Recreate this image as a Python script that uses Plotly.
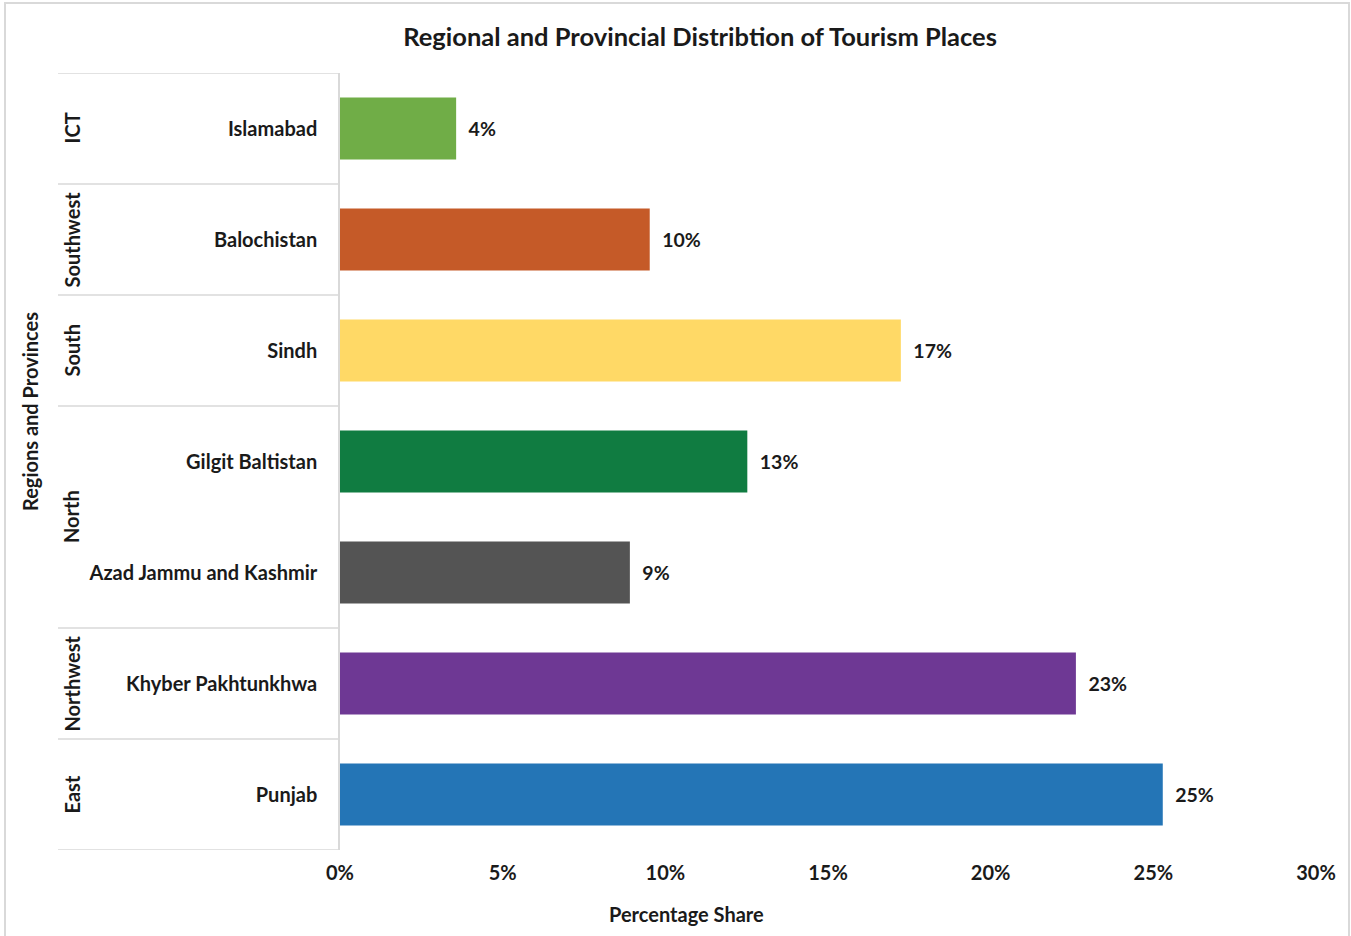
import plotly.graph_objects as go

# Regions and their provinces, listed top to bottom
regions = ["ICT", "Southwest", "South", "North", "North", "Northwest", "East"]
provinces = ["Islamabad", "Balochistan", "Sindh", "Gilgit Baltistan",
             "Azad Jammu and Kashmir", "Khyber Pakhtunkhwa", "Punjab"]
shares = [0.0357, 0.0952, 0.1724, 0.1252, 0.0891, 0.2262, 0.2529]
bar_colors = ["#70AD47", "#C55A28", "#FFD966", "#107C41",
              "#545454", "#6E3894", "#2475B6"]
x_ticks = [0, 0.05, 0.10, 0.15, 0.20, 0.25, 0.30]

W, H = 1351, 936
L, R, T, B = 340, 35, 73, 86
PW = W - L - R
PH = H - T - B

FONT = "Lato, 'Open Sans', sans-serif"
TXT = "#1a1a1a"
GRID = "#d9d9d9"
FS = 20


def px_x(px):
    return (px - L) / PW


def px_y(py):
    return (H - B - py) / PH


fig = go.Figure(
    go.Bar(
        x=shares,
        y=provinces,
        orientation="h",
        marker=dict(color=bar_colors, line=dict(width=0)),
        width=0.56,
        texttemplate="\u00a0\u00a0%{x:.0%}",
        textposition="outside",
        cliponaxis=False,
        textfont=dict(family=FONT, size=19.5, color=TXT, weight="bold"),
        hoverinfo="skip",
    )
)

# Group dividers and rotated region labels beside the province labels
shapes = []
annotations = []
groups = []
for i, r in enumerate(regions):
    if groups and groups[-1][0] == r:
        groups[-1][2] = i
    else:
        groups.append([r, i, i])

bounds = sorted({g[1] - 0.5 for g in groups} | {groups[-1][2] + 0.5})
for b in bounds:
    shapes.append(dict(type="line", xref="paper", yref="y",
                       x0=px_x(58), x1=0, y0=b, y1=b,
                       line=dict(color=GRID, width=1.5)))

for name, a, b in groups:
    annotations.append(dict(text=name, xref="paper", yref="y",
                            x=px_x(71), y=(a + b) / 2, textangle=-90,
                            showarrow=False, xanchor="center", yanchor="middle",
                            font=dict(family=FONT, size=FS, color=TXT, weight="bold")))

# Outer chart border
shapes.append(dict(type="rect", xref="paper", yref="paper",
                   x0=px_x(5), x1=px_x(1349), y0=px_y(3), y1=px_y(960),
                   line=dict(color=GRID, width=2), layer="below"))

annotations.append(dict(text="Regions and Provinces", xref="paper", yref="paper",
                        x=px_x(30), y=px_y(412), textangle=-90, showarrow=False,
                        xanchor="center", yanchor="middle",
                        font=dict(family=FONT, size=FS, color=TXT, weight="bold")))
annotations.append(dict(text="Percentage Share", xref="paper", yref="paper",
                        x=px_x(686), y=px_y(914), showarrow=False,
                        xanchor="center", yanchor="middle",
                        font=dict(family=FONT, size=FS, color=TXT, weight="bold")))

fig.update_layout(
    width=W, height=H,
    margin=dict(l=L, r=R, t=T, b=B, autoexpand=False),
    paper_bgcolor="white",
    plot_bgcolor="white",
    showlegend=False,
    title=dict(text="Regional and Provincial Distribtion of Tourism Places",
               x=700 / W, xanchor="center", y=1 - 37 / H, yanchor="middle",
               font=dict(family=FONT, size=25.5, color=TXT, weight="bold")),
    xaxis=dict(range=[0, 0.30], tickvals=x_ticks, tickformat=".0%",
               showgrid=False, zeroline=False, showline=False, ticks="",
               ticklabelstandoff=9,
               tickfont=dict(family=FONT, size=FS, color=TXT, weight="bold")),
    yaxis=dict(categoryorder="array", categoryarray=provinces,
               range=[len(provinces) - 0.5, -0.5],
               showgrid=False, zeroline=False, showline=True,
               linecolor=GRID, linewidth=1.5, ticks="",
               ticklabelstandoff=17,
               tickfont=dict(family=FONT, size=FS, color=TXT, weight="bold")),
    shapes=shapes,
    annotations=annotations,
)

fig.write_html("out.html")
